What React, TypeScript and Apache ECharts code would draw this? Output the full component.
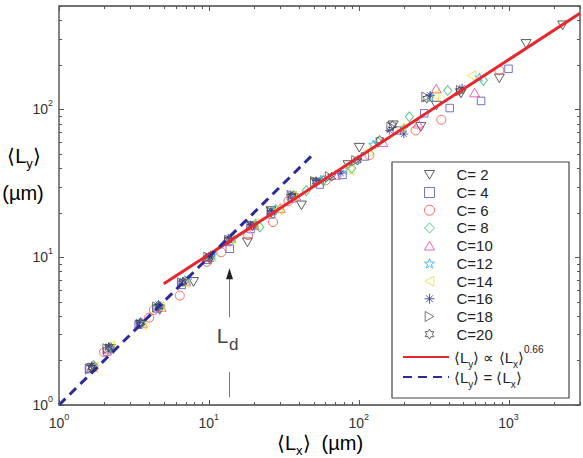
import React, { useEffect, useRef } from 'react';
import * as echarts from 'echarts';

type Pt = [number, number];

// Mean domain lengths <Lx>, <Ly> (µm) for each concentration C
const c2: Pt[] = [[1.65, 1.78], [2.2, 2.4], [3.5, 3.5], [4.7, 4.4], [7.9, 6.8], [10.2, 9.8], [18.1, 12.6], [19.5, 16.2], [26, 20.5], [41.5, 22.4], [52, 32], [85, 42], [101, 55], [170, 78], [260, 76], [330, 106], [482, 128], [868, 162], [1310, 277], [2300, 370]];
const c4: Pt[] = [[1.6, 1.75], [2.1, 2.3], [3.4, 3.5], [4.5, 4.5], [6.6, 6.5], [9.8, 9.6], [13.8, 11.4], [19, 15.5], [26, 19.5], [36, 25], [55, 31], [78, 36], [110, 48], [180, 72], [274, 94], [405, 102], [656, 114], [1000, 188]];
const c6: Pt[] = [[1.7, 1.8], [2.0, 2.28], [4.0, 3.9], [4.3, 4.4], [6.4, 5.5], [9.7, 9.3], [12.1, 10.8], [18.3, 14.1], [26.8, 17.3], [34, 24], [60, 33], [118, 49], [240, 72], [356, 85], [868, 184]];
const c8: Pt[] = [[1.7, 1.85], [2.2, 2.45], [3.5, 3.6], [4.6, 4.7], [6.9, 6.9], [10.3, 10.2], [14, 12.9], [21.9, 16], [28, 21], [44.7, 28.2], [58, 33], [90, 40], [135, 60], [218, 89], [393, 134], [680, 157]];
const c10: Pt[] = [[1.65, 1.8], [2.15, 2.4], [3.6, 3.6], [4.8, 4.6], [7, 6.9], [10, 10], [13, 12.8], [20, 16.5], [30, 21.5], [38, 26], [70, 36], [145, 60], [250, 80], [329, 138], [594, 130]];
const c12: Pt[] = [[1.65, 1.82], [2.2, 2.42], [3.5, 3.55], [4.7, 4.7], [7.2, 7.0], [10.5, 10.3], [14.5, 13.4], [20.5, 17], [27, 20.8], [37, 26.5], [56, 33.5], [80, 39], [125, 58], [200, 75], [300, 122], [640, 165]];
const c14: Pt[] = [[1.7, 1.8], [2.2, 2.5], [3.6, 3.5], [4.7, 4.6], [6.9, 6.8], [10.4, 10.1], [14, 13.2], [20, 16.8], [29, 21], [36, 26], [87, 38.8], [115, 52], [190, 74], [320, 125], [566, 169]];
const c16: Pt[] = [[1.65, 1.85], [2.15, 2.5], [3.45, 3.6], [4.6, 4.8], [6.7, 6.9], [10, 10.2], [13.5, 13.5], [19, 16.6], [26, 20.5], [35, 26.5], [52, 33], [76, 37], [99, 46], [160, 72], [200, 68], [300, 125], [490, 140]];
const c18: Pt[] = [[1.6, 1.75], [2.1, 2.4], [3.5, 3.5], [4.5, 4.6], [6.6, 6.7], [9.9, 10], [13.6, 13], [19.2, 16.4], [26.2, 20.2], [35.6, 26.2], [51, 32.5], [64, 35], [96, 45], [165, 76], [282, 121], [480, 134]];
const c20: Pt[] = [[1.65, 1.8], [2.15, 2.45], [3.5, 3.6], [4.65, 4.65], [6.7, 6.8], [10, 9.9], [13.4, 13], [19.5, 16.3], [26, 20], [36, 26], [52, 32.4], [66, 35], [98, 45], [138, 62], [168, 78], [285, 118], [470, 133]];

// Power-law fit <Ly> ∝ <Lx>^0.66 and the isotropic line <Ly> = <Lx>
const fitLine: Pt[] = [[5, 6.6], [3000, 446]];
const identityLine: Pt[] = [[1, 1], [50, 50]];

// Axis ranges and decade tick labels
const xRange = [1, 3000];
const yRange = [1, 500];
const xDecades = [1, 10, 100, 1000];
const yDecades = [1, 10, 100];
const minorSteps = [2, 3, 4, 5, 6, 7, 8, 9];

// Crossover length L_d marker (data coordinates)
const ldX = 13.6;
const ldShaftLow: Pt = [1.13, 1.67];
const ldShaftHigh: Pt = [3.93, 8.43];
const ldLabelY = 2.67;

const FONT = 'Liberation Sans, Arial, Helvetica, sans-serif';

function starPath(n: number, ratio: number): string {
  const pts: string[] = [];
  for (let i = 0; i < 2 * n; i++) {
    const r = i % 2 === 0 ? 5 : 5 * ratio;
    const a = (Math.PI * i) / n - Math.PI / 2;
    pts.push(`${(5 + r * Math.cos(a)).toFixed(2)},${(5 + r * Math.sin(a)).toFixed(2)}`);
  }
  return 'path://M' + pts.join('L') + 'Z';
}

const SYM = {
  down: 'path://M0,0L10,0L5,8.66Z',
  up: 'path://M5,0L10,8.66L0,8.66Z',
  left: 'path://M8.66,0L8.66,10L0,5Z',
  right: 'path://M0,0L8.66,5L0,10Z',
  star5: starPath(5, 0.4),
  star6: starPath(6, 0.577),
  asterisk: 'path://M5,0L5,10M0,5L10,5M1.46,1.46L8.54,8.54M1.46,8.54L8.54,1.46',
};

const groups = [
  { name: 'C= 2', data: c2, symbol: SYM.down, size: 10, color: '#333333' },
  { name: 'C= 4', data: c4, symbol: 'rect', size: 7.5, color: '#5050c8' },
  { name: 'C= 6', data: c6, symbol: 'circle', size: 9, color: '#f04646' },
  { name: 'C= 8', data: c8, symbol: 'diamond', size: [8, 10], color: '#2eb872' },
  { name: 'C=10', data: c10, symbol: SYM.up, size: 10, color: '#e83ea8' },
  { name: 'C=12', data: c12, symbol: SYM.star5, size: 9, color: '#2aa8e8' },
  { name: 'C=14', data: c14, symbol: SYM.left, size: 10, color: '#e6e01a' },
  { name: 'C=16', data: c16, symbol: SYM.asterisk, size: 8, color: '#34349c' },
  { name: 'C=18', data: c18, symbol: SYM.right, size: 10, color: '#555555' },
  { name: 'C=20', data: c20, symbol: SYM.star6, size: 9, color: '#444444' },
];

const isDecade = (v: number) => Math.abs(Math.log10(v) - Math.round(Math.log10(v))) < 1e-6;
const decadeLabel = (v: number) => (isDecade(v) ? `{b|10}{s|${Math.round(Math.log10(v))}}` : '');
const tickRich = {
  b: { fontSize: 14, lineHeight: 22, color: '#333', fontFamily: FONT },
  s: { fontSize: 9, lineHeight: 12, verticalAlign: 'top', color: '#333', fontFamily: FONT },
};

const titleRich = {
  m: { fontSize: 20, lineHeight: 28, color: '#222', fontFamily: FONT },
  s: { fontSize: 13, lineHeight: 14, verticalAlign: 'bottom', color: '#222', fontFamily: FONT },
};

export default function App() {
  const ref = useRef<HTMLDivElement>(null);

  useEffect(() => {
    const chart = echarts.init(ref.current!, null, { renderer: 'svg' });

    const scatterSeries = groups.map((g) => ({
      type: 'scatter',
      name: g.name,
      data: g.data,
      symbol: g.symbol,
      symbolSize: g.size,
      symbolKeepAspect: true,
      itemStyle: { color: 'none', borderColor: g.color, borderWidth: 1 },
      silent: true,
      z: 2,
    }));

    const tickSeries = {
      type: 'custom',
      coordinateSystem: 'cartesian2d',
      data: [[xRange[0], yRange[0]]],
      silent: true,
      clip: false,
      z: 6,
      renderItem: (params: any, api: any) => {
        const cs = params.coordSys;
        const x0 = cs.x, y0 = cs.y, w = cs.width, h = cs.height;
        const style = { stroke: '#555', lineWidth: 1 };
        const children: any[] = [];
        for (const d of xDecades) {
          for (const m of [1, ...minorSteps]) {
            const v = d * m;
            if (v > xRange[1]) continue;
            const px = Math.round(api.coord([v, yRange[0]])[0]) + 0.5;
            const len = m === 1 ? 5 : 3;
            children.push({ type: 'line', shape: { x1: px, y1: y0 + h, x2: px, y2: y0 + h - len }, style });
            children.push({ type: 'line', shape: { x1: px, y1: y0, x2: px, y2: y0 + len }, style });
          }
        }
        for (const d of yDecades) {
          for (const m of [1, ...minorSteps]) {
            const v = d * m;
            if (v > yRange[1]) continue;
            const py = Math.round(api.coord([xRange[0], v])[1]) + 0.5;
            const len = m === 1 ? 5 : 3;
            children.push({ type: 'line', shape: { x1: x0, y1: py, x2: x0 + len, y2: py }, style });
            children.push({ type: 'line', shape: { x1: x0 + w, y1: py, x2: x0 + w - len, y2: py }, style });
          }
        }
        return { type: 'group', children };
      },
    };

    const ldSeries = {
      type: 'custom',
      coordinateSystem: 'cartesian2d',
      data: [[ldX, ldLabelY]],
      silent: true,
      clip: false,
      z: 6,
      renderItem: (_params: any, api: any) => {
        const ax = Math.round(api.coord([ldX, 1])[0]) + 0.5;
        const yLow0 = api.coord([ldX, ldShaftLow[0]])[1];
        const yLow1 = api.coord([ldX, ldShaftLow[1]])[1];
        const yHigh0 = api.coord([ldX, ldShaftHigh[0]])[1];
        const tip = api.coord([ldX, ldShaftHigh[1]])[1];
        const ly = api.coord([ldX, ldLabelY])[1];
        const shaft = { stroke: '#777', lineWidth: 1 };
        return {
          type: 'group',
          children: [
            { type: 'line', shape: { x1: ax, y1: yLow0, x2: ax, y2: yLow1 }, style: shaft },
            { type: 'line', shape: { x1: ax, y1: yHigh0, x2: ax, y2: tip + 8 }, style: shaft },
            { type: 'polygon', shape: { points: [[ax, tip], [ax - 3.5, tip + 11], [ax + 3.5, tip + 11]] }, style: { fill: '#222' } },
            { type: 'text', style: { text: 'L', x: ax - 1, y: ly - 6, align: 'right', verticalAlign: 'middle', fontSize: 21, fontFamily: FONT, fill: '#444' } },
            { type: 'text', style: { text: 'd', x: ax - 0.5, y: ly + 3, align: 'left', verticalAlign: 'middle', fontSize: 17, fontFamily: FONT, fill: '#444' } },
          ],
        };
      },
    };

    const option: any = {
      animation: false,
      backgroundColor: '#fff',
      grid: { left: 59, right: 3, top: 6, bottom: 53, show: true, borderColor: '#444', borderWidth: 1.3, backgroundColor: 'transparent' },
      xAxis: {
        type: 'log', logBase: 10, min: xRange[0], max: xRange[1],
        axisLine: { show: false }, axisTick: { show: false }, splitLine: { show: false }, minorTick: { show: false },
        axisLabel: { margin: 7, formatter: decadeLabel, rich: tickRich },
      },
      yAxis: {
        type: 'log', logBase: 10, min: yRange[0], max: yRange[1],
        axisLine: { show: false }, axisTick: { show: false }, splitLine: { show: false }, minorTick: { show: false },
        axisLabel: { margin: 6, formatter: decadeLabel, rich: tickRich },
      },
      legend: [
        {
          data: groups.map((g) => g.name),
          orient: 'vertical', left: 422, top: 166, padding: 0, itemGap: 0,
          itemWidth: 10, itemHeight: 10, selectedMode: false,
          itemStyle: { borderWidth: 1 },
          textStyle: { fontSize: 15, lineHeight: 17.7, color: '#222', fontFamily: FONT, padding: [0, 0, 0, 17] },
        },
        {
          data: ['power law', 'isotropic'],
          orient: 'vertical', left: 402, top: 344.5, padding: 0, itemGap: 0,
          itemWidth: 46, itemHeight: 14, selectedMode: false,
          itemStyle: { opacity: 0 },
          formatter: (name: string) =>
            name === 'power law'
              ? '{t|⟨L}{sub|y}{t|⟩ ∝ ⟨L}{sub|x}{t|⟩}{sup|0.66}'
              : '{t|⟨L}{sub|y}{t|⟩ = ⟨L}{sub|x}{t|⟩}',
          textStyle: {
            color: '#222', fontFamily: FONT,
            rich: {
              t: { fontSize: 15, lineHeight: 25, color: '#222', fontFamily: FONT },
              sub: { fontSize: 10, lineHeight: 12, verticalAlign: 'bottom', color: '#222', fontFamily: FONT },
              sup: { fontSize: 10, lineHeight: 9, verticalAlign: 'top', color: '#222', fontFamily: FONT },
            },
          },
        },
      ],
      graphic: [
        { type: 'rect', shape: { x: 392, y: 162, width: 177, height: 236 }, style: { fill: '#fff', stroke: '#444', lineWidth: 1.2 }, z: 0, silent: true },
        { type: 'text', x: 24, y: 156, style: { text: '{m|⟨L}{s|y}{m|⟩}', rich: titleRich, align: 'center', verticalAlign: 'middle' }, silent: true },
        { type: 'text', x: 23, y: 193, style: { text: '{m|(µm)}', rich: titleRich, align: 'center', verticalAlign: 'middle' }, silent: true },
        { type: 'text', x: 320, y: 443, style: { text: '{m|⟨L}{s|x}{m|⟩  (µm)}', rich: titleRich, align: 'center', verticalAlign: 'middle' }, silent: true },
      ],
      series: [
        ...scatterSeries,
        {
          type: 'line', name: 'power law', data: fitLine, symbol: 'none', symbolSize: 0, showSymbol: false, silent: true, z: 4,
          lineStyle: { color: '#e8262d', width: 3 },
        },
        {
          type: 'line', name: 'isotropic', data: identityLine, symbol: 'none', symbolSize: 0, showSymbol: false, silent: true, z: 4,
          lineStyle: { color: '#2b2b9e', width: 3, type: [9, 6] },
        },
        tickSeries,
        ldSeries,
      ],
    };

    chart.setOption(option);
    return () => chart.dispose();
  }, []);

  return (
    <div
      ref={ref}
      style={{ position: 'absolute', left: 0, top: 0, width: 583, height: 458, background: '#fff' }}
    />
  );
}
